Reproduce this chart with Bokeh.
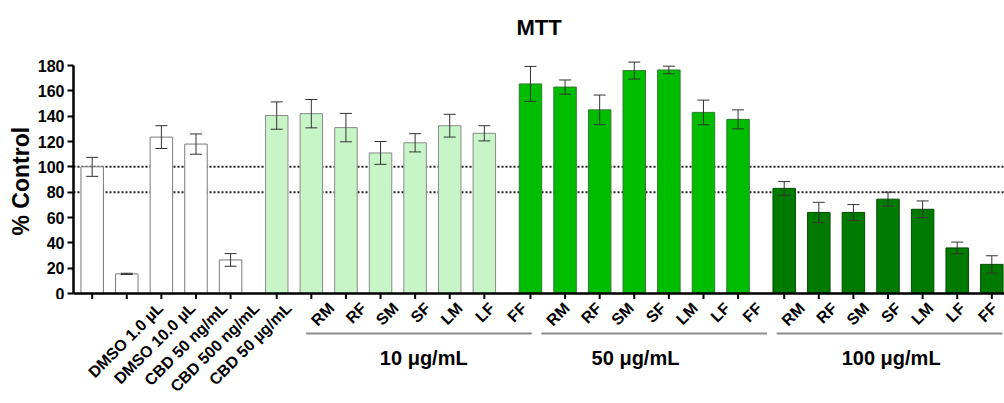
import math
from bokeh.plotting import figure
from bokeh.layouts import column
from bokeh.models import Range1d, FixedTicker, ColumnDataSource, Title
from bokeh.core.properties import value
from bokeh.embed import file_html
from bokeh.resources import INLINE

# ---------------- data ----------------
control_labels = ["DMSO 1.0 µL", "DMSO 10.0 µL", "CBD 50 ng/mL", "CBD 500 ng/mL", "CBD 50 µg/mL"]
control_mean = [100.0, 15.5, 123.5, 118.0, 26.5]
control_err = [7.5, 0.5, 9.0, 8.0, 5.0]

extracts = ["RM", "RF", "SM", "SF", "LM", "LF", "FF"]
group_names = ["10 μg/mL", "50 μg/mL", "100 μg/mL"]
g10_mean = [140.5, 142.0, 131.0, 111.0, 119.0, 132.5, 126.5]
g10_err = [10.8, 11.2, 11.2, 9.0, 7.2, 9.0, 6.0]
g50_mean = [165.5, 163.0, 145.0, 176.0, 176.5, 143.0, 137.5]
g50_err = [13.8, 5.6, 11.7, 6.7, 3.0, 9.7, 7.5]
g100_mean = [83.0, 64.0, 64.0, 74.5, 66.5, 36.0, 23.0]
g100_err = [5.4, 8.0, 6.2, 5.5, 6.6, 4.6, 6.8]
ref_lines = [80, 100]
y_ticks = [0, 20, 40, 60, 80, 100, 120, 140, 160, 180]

# ---------------- layout helpers ----------------
SLOT = 3
GAP = 4
FONT = "Liberation Sans"

group_means = [g10_mean, g50_mean, g100_mean]
group_errs = [g10_err, g50_err, g100_err]
group_fill = ["#c8f5c8", "#00bd00", "#007a00"]
group_line = ["#8a8a8a", "#2e7d2e", "#004d00"]

xs, tops, errs, fills, lines, labels = [], [], [], [], [], []
for i, (m, e) in enumerate(zip(control_mean, control_err)):
    xs.append(i * SLOT); tops.append(m); errs.append(e)
    fills.append("#ffffff"); lines.append("#7a7a7a"); labels.append(control_labels[i])

group_starts = []
x = (len(control_mean) - 1) * SLOT
for g in range(len(group_names)):
    x += GAP
    group_starts.append(x)
    for j, name in enumerate(extracts):
        xs.append(x); tops.append(group_means[g][j]); errs.append(group_errs[g][j])
        fills.append(group_fill[g]); lines.append(group_line[g]); labels.append(name)
        if j < len(extracts) - 1:
            x += SLOT

PX_PER_Y = 1.2667
PX_PER_X = 34.6 / SLOT
CAP = 6 / PX_PER_X
LEFT = 73
TOP_H = 299          # height of the chart part; x axis sits at 293 px
x_start, x_end = -1.62, 79.1
y_start, y_end = -(TOP_H - 293) / PX_PER_Y, 190.3

src = ColumnDataSource(dict(
    x=xs, top=tops, fill=fills, line=lines,
    upper=[t + e for t, e in zip(tops, errs)],
    lower=[t - e for t, e in zip(tops, errs)],
    cap0=[v - CAP for v in xs], cap1=[v + CAP for v in xs],
    t0=[0] * len(xs), t1=[y_start] * len(xs)))

# ================= chart part =================
p = figure(width=1004, height=TOP_H, x_range=Range1d(x_start, x_end),
           y_range=Range1d(y_start, y_end), output_backend="svg",
           toolbar_location=None, x_axis_location=None,
           min_border_left=LEFT, min_border_right=0, min_border_top=52, min_border_bottom=0)
p.outline_line_alpha = 0
p.xgrid.grid_line_color = None
p.ygrid.grid_line_color = None

p.title.text = "MTT"
p.title.align = "center"
p.title.text_font = FONT
p.title.text_font_size = "22px"
p.title.text_font_style = "bold"
p.title.text_color = "black"
p.title.standoff = 25

# reference dotted lines (drawn first, so bars cover them)
p.segment(x0=[x_start] * len(ref_lines), x1=[x_end] * len(ref_lines), y0=ref_lines, y1=ref_lines,
          line_color="#222222", line_width=2, line_dash="2 2")

p.vbar(x="x", top="top", bottom=0, width=1.95, source=src,
       fill_color="fill", line_color="line", line_width=1)

EB = "#333333"
p.segment(x0="x", x1="x", y0="lower", y1="upper", source=src, line_color=EB, line_width=1)
p.segment(x0="cap0", x1="cap1", y0="upper", y1="upper", source=src, line_color=EB, line_width=1)
p.segment(x0="cap0", x1="cap1", y0="lower", y1="lower", source=src, line_color=EB, line_width=1)

ya = p.yaxis[0]
ya.ticker = FixedTicker(ticks=y_ticks)
ya.bounds = (0, 180)
ya.major_label_text_font = FONT
ya.major_label_text_font_size = "16px"
ya.major_label_text_font_style = "bold"
ya.major_label_text_color = "black"
ya.major_label_standoff = 3
ya.axis_line_width = 2.5
ya.axis_line_color = "black"
ya.major_tick_line_width = 2
ya.major_tick_out = 6
ya.major_tick_in = 0
ya.minor_tick_line_color = None

# y axis title, centred on the 0-180 span (frame bottom at TOP_H px, text bottom at 235 px)
p.add_layout(Title(text="% Control", align="left", offset=TOP_H - 235, standoff=2,
                   text_font=FONT, text_font_size="23px", text_font_style="bold",
                   text_color="black"), "left")

# x axis line at y = 0 and its ticks
p.segment(x0=[x_start], x1=[x_end], y0=[0], y1=[0], line_color="black", line_width=2.5)
p.segment(x0="x", x1="x", y0="t0", y1="t1", source=src, line_color="black", line_width=2)

# ================= label strip below the axis =================
BOT_H = 403 - TOP_H
bx_start = x_start - LEFT / PX_PER_X
b = figure(width=1004, height=BOT_H, x_range=Range1d(bx_start, x_end),
           y_range=Range1d(-BOT_H, 0), output_backend="svg", toolbar_location=None,
           x_axis_location=None, y_axis_location=None,
           min_border_left=0, min_border_right=0, min_border_top=0, min_border_bottom=0)
b.outline_line_alpha = 0
b.xgrid.grid_line_color = None
b.ygrid.grid_line_color = None

# rotated category labels (y in pixels below the strip top)
b.text(x=[v + 2 / PX_PER_X for v in xs], y=[-(305 - TOP_H)] * len(xs), text=labels,
       angle=math.pi / 4, text_font=value(FONT), text_font_size="16px",
       text_font_style="bold", text_align="right", text_baseline="middle",
       text_color="black")

n = len(extracts)
label_shift = [-0.2, -2.4, -0.5]
x0s, x1s, cx = [], [], []
for g, s in enumerate(group_starts):
    last = s + (n - 1) * SLOT
    x0s.append(s - 2.2)
    x1s.append(min(last + 0.9, x_end))
    cx.append((s + last) / 2 + label_shift[g])
b.segment(x0=x0s, x1=x1s, y0=[-(333 - TOP_H)] * 3, y1=[-(333 - TOP_H)] * 3,
          line_color="#8c8c8c", line_width=2)
b.text(x=cx, y=[-(357 - TOP_H)] * 3, text=group_names, text_font=value(FONT),
       text_font_size="20px", text_font_style="bold", text_align="center",
       text_baseline="middle", text_color="black")

layout = column(p, b, spacing=0)
open("out.html", "w").write(file_html(layout, INLINE))
